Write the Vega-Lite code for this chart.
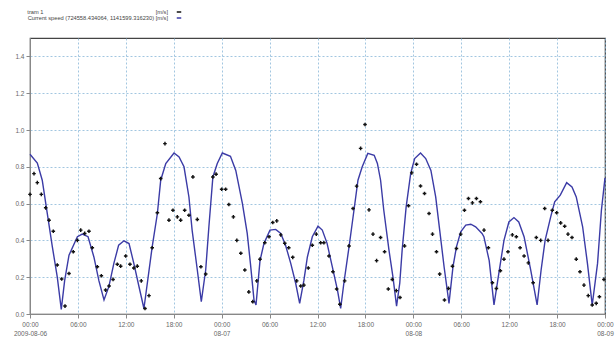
{
  "$schema": "https://vega.github.io/schema/vega-lite/v6.json",
  "width": 575,
  "height": 276,
  "autosize": {"type": "none"},
  "padding": {"left": 30, "top": 38, "right": 11, "bottom": 26},
  "background": "white",
  "config": {
    "font": "Liberation Sans",
    "view": {"stroke": "#444", "strokeWidth": 1.2},
    "axis": {"labelFont": "Liberation Sans", "labelFontSize": 6.5, "labelColor": "#666", "domainColor": "#888", "tickColor": "#888", "gridColor": "#8ab8d8", "gridDash": [2, 2], "gridWidth": 0.8}
  },
  "datasets": {
    "speed": [
      {"t": "2009-08-06T00:00", "v": 0.868}, {"t": "2009-08-06T00:55", "v": 0.82}, {"t": "2009-08-06T01:32", "v": 0.727},
      {"t": "2009-08-06T02:10", "v": 0.546}, {"t": "2009-08-06T02:48", "v": 0.365}, {"t": "2009-08-06T03:25", "v": 0.2},
      {"t": "2009-08-06T03:55", "v": 0.025}, {"t": "2009-08-06T04:20", "v": 0.18}, {"t": "2009-08-06T04:53", "v": 0.32},
      {"t": "2009-08-06T05:56", "v": 0.42}, {"t": "2009-08-06T06:33", "v": 0.434}, {"t": "2009-08-06T07:16", "v": 0.42},
      {"t": "2009-08-06T08:00", "v": 0.31}, {"t": "2009-08-06T08:38", "v": 0.18}, {"t": "2009-08-06T09:16", "v": 0.076},
      {"t": "2009-08-06T09:53", "v": 0.15}, {"t": "2009-08-06T10:30", "v": 0.275}, {"t": "2009-08-06T11:06", "v": 0.374},
      {"t": "2009-08-06T11:46", "v": 0.398}, {"t": "2009-08-06T12:24", "v": 0.383}, {"t": "2009-08-06T13:00", "v": 0.275},
      {"t": "2009-08-06T13:39", "v": 0.148}, {"t": "2009-08-06T14:16", "v": 0.03}, {"t": "2009-08-06T15:18", "v": 0.365},
      {"t": "2009-08-06T15:57", "v": 0.546}, {"t": "2009-08-06T16:22", "v": 0.727}, {"t": "2009-08-06T17:00", "v": 0.818},
      {"t": "2009-08-06T18:02", "v": 0.875}, {"t": "2009-08-06T18:40", "v": 0.854}, {"t": "2009-08-06T19:17", "v": 0.8},
      {"t": "2009-08-06T19:54", "v": 0.636}, {"t": "2009-08-06T20:18", "v": 0.456}, {"t": "2009-08-06T20:57", "v": 0.239},
      {"t": "2009-08-06T21:27", "v": 0.067}, {"t": "2009-08-06T22:00", "v": 0.239}, {"t": "2009-08-06T22:24", "v": 0.474},
      {"t": "2009-08-06T22:54", "v": 0.745}, {"t": "2009-08-06T23:27", "v": 0.818}, {"t": "2009-08-07T00:05", "v": 0.875},
      {"t": "2009-08-07T01:06", "v": 0.857}, {"t": "2009-08-07T01:46", "v": 0.78}, {"t": "2009-08-07T02:36", "v": 0.6},
      {"t": "2009-08-07T03:12", "v": 0.438}, {"t": "2009-08-07T03:36", "v": 0.275}, {"t": "2009-08-07T04:03", "v": 0.076},
      {"t": "2009-08-07T04:18", "v": 0.049}, {"t": "2009-08-07T04:48", "v": 0.29}, {"t": "2009-08-07T05:18", "v": 0.384},
      {"t": "2009-08-07T06:03", "v": 0.456}, {"t": "2009-08-07T06:46", "v": 0.46}, {"t": "2009-08-07T07:24", "v": 0.438},
      {"t": "2009-08-07T08:00", "v": 0.374}, {"t": "2009-08-07T08:39", "v": 0.275}, {"t": "2009-08-07T09:16", "v": 0.167},
      {"t": "2009-08-07T09:46", "v": 0.058}, {"t": "2009-08-07T10:18", "v": 0.184}, {"t": "2009-08-07T10:44", "v": 0.31},
      {"t": "2009-08-07T11:21", "v": 0.42}, {"t": "2009-08-07T12:04", "v": 0.477}, {"t": "2009-08-07T12:36", "v": 0.456},
      {"t": "2009-08-07T13:12", "v": 0.384}, {"t": "2009-08-07T13:51", "v": 0.257}, {"t": "2009-08-07T14:30", "v": 0.13},
      {"t": "2009-08-07T14:54", "v": 0.03}, {"t": "2009-08-07T15:18", "v": 0.167}, {"t": "2009-08-07T15:57", "v": 0.365},
      {"t": "2009-08-07T16:34", "v": 0.564}, {"t": "2009-08-07T17:04", "v": 0.727}, {"t": "2009-08-07T17:36", "v": 0.8},
      {"t": "2009-08-07T18:18", "v": 0.873}, {"t": "2009-08-07T19:06", "v": 0.863}, {"t": "2009-08-07T19:30", "v": 0.818},
      {"t": "2009-08-07T19:54", "v": 0.727}, {"t": "2009-08-07T20:18", "v": 0.564}, {"t": "2009-08-07T20:57", "v": 0.347},
      {"t": "2009-08-07T21:27", "v": 0.2}, {"t": "2009-08-07T21:54", "v": 0.043}, {"t": "2009-08-07T22:18", "v": 0.167},
      {"t": "2009-08-07T22:36", "v": 0.347}, {"t": "2009-08-07T23:06", "v": 0.582}, {"t": "2009-08-07T23:40", "v": 0.763},
      {"t": "2009-08-08T00:10", "v": 0.845}, {"t": "2009-08-08T00:54", "v": 0.875}, {"t": "2009-08-08T01:33", "v": 0.845},
      {"t": "2009-08-08T02:12", "v": 0.78}, {"t": "2009-08-08T02:48", "v": 0.636}, {"t": "2009-08-08T03:18", "v": 0.456},
      {"t": "2009-08-08T03:51", "v": 0.257}, {"t": "2009-08-08T04:28", "v": 0.058}, {"t": "2009-08-08T04:58", "v": 0.257},
      {"t": "2009-08-08T05:24", "v": 0.365}, {"t": "2009-08-08T05:56", "v": 0.447}, {"t": "2009-08-08T06:34", "v": 0.483},
      {"t": "2009-08-08T07:12", "v": 0.488}, {"t": "2009-08-08T07:48", "v": 0.474}, {"t": "2009-08-08T08:36", "v": 0.438},
      {"t": "2009-08-08T08:50", "v": 0.42}, {"t": "2009-08-08T09:30", "v": 0.29}, {"t": "2009-08-08T10:06", "v": 0.05},
      {"t": "2009-08-08T10:42", "v": 0.22}, {"t": "2009-08-08T11:21", "v": 0.4}, {"t": "2009-08-08T11:58", "v": 0.5},
      {"t": "2009-08-08T12:36", "v": 0.524}, {"t": "2009-08-08T13:12", "v": 0.5}, {"t": "2009-08-08T13:52", "v": 0.42},
      {"t": "2009-08-08T14:42", "v": 0.239}, {"t": "2009-08-08T15:30", "v": 0.049}, {"t": "2009-08-08T16:00", "v": 0.239},
      {"t": "2009-08-08T16:30", "v": 0.4}, {"t": "2009-08-08T17:12", "v": 0.528}, {"t": "2009-08-08T17:42", "v": 0.61},
      {"t": "2009-08-08T18:24", "v": 0.646}, {"t": "2009-08-08T19:12", "v": 0.714}, {"t": "2009-08-08T19:52", "v": 0.69},
      {"t": "2009-08-08T20:24", "v": 0.636}, {"t": "2009-08-08T21:12", "v": 0.474}, {"t": "2009-08-08T21:48", "v": 0.275},
      {"t": "2009-08-08T22:24", "v": 0.049}, {"t": "2009-08-08T23:04", "v": 0.275}, {"t": "2009-08-08T23:33", "v": 0.564},
      {"t": "2009-08-09T00:00", "v": 0.74}
    ],
    "obs": [
      {"t": "2009-08-06T00:00", "v": 0.65}, {"t": "2009-08-06T00:30", "v": 0.763}, {"t": "2009-08-06T00:55", "v": 0.714},
      {"t": "2009-08-06T01:25", "v": 0.65}, {"t": "2009-08-06T01:58", "v": 0.577}, {"t": "2009-08-06T02:23", "v": 0.51},
      {"t": "2009-08-06T02:55", "v": 0.45}, {"t": "2009-08-06T03:25", "v": 0.266}, {"t": "2009-08-06T03:58", "v": 0.19},
      {"t": "2009-08-06T04:23", "v": 0.043}, {"t": "2009-08-06T04:53", "v": 0.22}, {"t": "2009-08-06T05:25", "v": 0.338},
      {"t": "2009-08-06T05:56", "v": 0.4}, {"t": "2009-08-06T06:21", "v": 0.456}, {"t": "2009-08-06T06:51", "v": 0.438},
      {"t": "2009-08-06T07:23", "v": 0.45}, {"t": "2009-08-06T07:48", "v": 0.36}, {"t": "2009-08-06T08:26", "v": 0.257},
      {"t": "2009-08-06T08:56", "v": 0.208}, {"t": "2009-08-06T09:28", "v": 0.13}, {"t": "2009-08-06T09:54", "v": 0.152},
      {"t": "2009-08-06T10:24", "v": 0.188}, {"t": "2009-08-06T10:56", "v": 0.27}, {"t": "2009-08-06T11:21", "v": 0.26},
      {"t": "2009-08-06T11:59", "v": 0.315}, {"t": "2009-08-06T12:31", "v": 0.27}, {"t": "2009-08-06T13:00", "v": 0.25},
      {"t": "2009-08-06T13:26", "v": 0.26}, {"t": "2009-08-06T13:56", "v": 0.18}, {"t": "2009-08-06T14:24", "v": 0.03},
      {"t": "2009-08-06T14:54", "v": 0.1}, {"t": "2009-08-06T15:18", "v": 0.36}, {"t": "2009-08-06T15:57", "v": 0.55},
      {"t": "2009-08-06T16:22", "v": 0.736}, {"t": "2009-08-06T16:54", "v": 0.926}, {"t": "2009-08-06T17:24", "v": 0.51},
      {"t": "2009-08-06T17:54", "v": 0.564}, {"t": "2009-08-06T18:27", "v": 0.528}, {"t": "2009-08-06T18:52", "v": 0.51},
      {"t": "2009-08-06T19:22", "v": 0.564}, {"t": "2009-08-06T19:54", "v": 0.537}, {"t": "2009-08-06T20:24", "v": 0.745},
      {"t": "2009-08-06T20:57", "v": 0.514}, {"t": "2009-08-06T21:24", "v": 0.257}, {"t": "2009-08-06T22:00", "v": 0.217},
      {"t": "2009-08-06T22:54", "v": 0.745}, {"t": "2009-08-06T23:18", "v": 0.76}, {"t": "2009-08-07T00:00", "v": 0.678},
      {"t": "2009-08-07T00:30", "v": 0.678}, {"t": "2009-08-07T00:54", "v": 0.595}, {"t": "2009-08-07T01:28", "v": 0.528},
      {"t": "2009-08-07T01:54", "v": 0.4}, {"t": "2009-08-07T02:24", "v": 0.33}, {"t": "2009-08-07T02:54", "v": 0.239},
      {"t": "2009-08-07T03:24", "v": 0.12}, {"t": "2009-08-07T03:54", "v": 0.067}, {"t": "2009-08-07T04:24", "v": 0.18},
      {"t": "2009-08-07T04:48", "v": 0.298}, {"t": "2009-08-07T05:24", "v": 0.387}, {"t": "2009-08-07T05:56", "v": 0.42},
      {"t": "2009-08-07T06:24", "v": 0.497}, {"t": "2009-08-07T06:54", "v": 0.506}, {"t": "2009-08-07T07:24", "v": 0.43},
      {"t": "2009-08-07T07:54", "v": 0.384}, {"t": "2009-08-07T08:24", "v": 0.36}, {"t": "2009-08-07T08:54", "v": 0.308},
      {"t": "2009-08-07T09:24", "v": 0.18}, {"t": "2009-08-07T09:54", "v": 0.152}, {"t": "2009-08-07T10:18", "v": 0.157},
      {"t": "2009-08-07T10:51", "v": 0.25}, {"t": "2009-08-07T11:21", "v": 0.374}, {"t": "2009-08-07T11:51", "v": 0.434},
      {"t": "2009-08-07T12:24", "v": 0.387}, {"t": "2009-08-07T12:48", "v": 0.387}, {"t": "2009-08-07T13:26", "v": 0.315},
      {"t": "2009-08-07T13:56", "v": 0.23}, {"t": "2009-08-07T14:24", "v": 0.136}, {"t": "2009-08-07T14:48", "v": 0.053},
      {"t": "2009-08-07T15:24", "v": 0.18}, {"t": "2009-08-07T15:57", "v": 0.37}, {"t": "2009-08-07T16:27", "v": 0.573},
      {"t": "2009-08-07T16:54", "v": 0.695}, {"t": "2009-08-07T17:24", "v": 0.9}, {"t": "2009-08-07T17:57", "v": 1.03},
      {"t": "2009-08-07T18:27", "v": 0.566}, {"t": "2009-08-07T18:57", "v": 0.434}, {"t": "2009-08-07T19:24", "v": 0.29},
      {"t": "2009-08-07T19:54", "v": 0.416}, {"t": "2009-08-07T20:24", "v": 0.338}, {"t": "2009-08-07T20:52", "v": 0.136},
      {"t": "2009-08-07T21:22", "v": 0.188}, {"t": "2009-08-07T21:52", "v": 0.127}, {"t": "2009-08-07T22:20", "v": 0.09},
      {"t": "2009-08-07T22:54", "v": 0.37}, {"t": "2009-08-07T23:24", "v": 0.588}, {"t": "2009-08-07T23:48", "v": 0.767},
      {"t": "2009-08-08T00:24", "v": 0.814}, {"t": "2009-08-08T00:54", "v": 0.696}, {"t": "2009-08-08T01:24", "v": 0.655},
      {"t": "2009-08-08T01:58", "v": 0.546}, {"t": "2009-08-08T02:24", "v": 0.434}, {"t": "2009-08-08T02:54", "v": 0.338},
      {"t": "2009-08-08T03:18", "v": 0.217}, {"t": "2009-08-08T03:54", "v": 0.076}, {"t": "2009-08-08T04:24", "v": 0.139},
      {"t": "2009-08-08T04:54", "v": 0.26}, {"t": "2009-08-08T05:24", "v": 0.356}, {"t": "2009-08-08T05:56", "v": 0.434},
      {"t": "2009-08-08T06:24", "v": 0.564}, {"t": "2009-08-08T06:54", "v": 0.628}, {"t": "2009-08-08T07:24", "v": 0.604},
      {"t": "2009-08-08T07:54", "v": 0.628}, {"t": "2009-08-08T08:24", "v": 0.61}, {"t": "2009-08-08T08:51", "v": 0.456},
      {"t": "2009-08-08T09:24", "v": 0.36}, {"t": "2009-08-08T09:54", "v": 0.17}, {"t": "2009-08-08T10:24", "v": 0.139},
      {"t": "2009-08-08T10:54", "v": 0.235}, {"t": "2009-08-08T11:21", "v": 0.298}, {"t": "2009-08-08T11:51", "v": 0.338},
      {"t": "2009-08-08T12:24", "v": 0.43}, {"t": "2009-08-08T12:54", "v": 0.42}, {"t": "2009-08-08T13:22", "v": 0.36},
      {"t": "2009-08-08T13:52", "v": 0.315}, {"t": "2009-08-08T14:24", "v": 0.278}, {"t": "2009-08-08T15:00", "v": 0.17},
      {"t": "2009-08-08T15:24", "v": 0.416}, {"t": "2009-08-08T15:57", "v": 0.4}, {"t": "2009-08-08T16:27", "v": 0.573},
      {"t": "2009-08-08T16:52", "v": 0.4}, {"t": "2009-08-08T17:24", "v": 0.564}, {"t": "2009-08-08T17:57", "v": 0.55},
      {"t": "2009-08-08T18:27", "v": 0.495}, {"t": "2009-08-08T18:57", "v": 0.477}, {"t": "2009-08-08T19:22", "v": 0.434},
      {"t": "2009-08-08T19:52", "v": 0.416}, {"t": "2009-08-08T20:24", "v": 0.298}, {"t": "2009-08-08T20:52", "v": 0.23},
      {"t": "2009-08-08T21:22", "v": 0.157}, {"t": "2009-08-08T21:54", "v": 0.1}, {"t": "2009-08-08T22:24", "v": 0.049},
      {"t": "2009-08-08T22:54", "v": 0.058}, {"t": "2009-08-08T23:18", "v": 0.094}, {"t": "2009-08-08T23:52", "v": 0.188}
    ]
  },
  "layer": [
    {
      "data": {"name": "speed"},
      "mark": {"type": "line", "strokeWidth": 1.4},
      "encoding": {
        "x": {"field": "t", "type": "temporal",
          "axis": {"title": null, "grid": true, "tickSize": 4, "labelPadding": 3, "labelFlush": false, "labelOverlap": false, "labelLineHeight": 9,
            "labelExpr": "hours(datum.value) == 0 ? [timeFormat(datum.value, '%H:%M'), date(datum.value) == 6 ? '2009-08-06' : timeFormat(datum.value, '%m-%d')] : timeFormat(datum.value, '%H:%M')"}},
        "y": {"field": "v", "type": "quantitative",
          "scale": {"domain": [0, 1.5], "nice": false},
          "axis": {"title": null, "values": [0, 0.2, 0.4, 0.6, 0.8, 1.0, 1.2, 1.4], "tickCount": 8, "format": ".1f", "grid": true, "tickSize": 4, "labelPadding": 2, "labelOverlap": false}},
        "color": {"datum": "Current speed (724558.434064, 1141599.316230)", "type": "nominal",
          "scale": {"domain": ["tram 1", "Current speed (724558.434064, 1141599.316230)"], "range": ["#111111", "#3b3ba6"]},
          "legend": {"orient": "none", "legendX": 146, "legendY": -29, "title": null, "labelFontSize": 5.7, "labelColor": "#444", "labelLimit": 400, "symbolSize": 20, "rowPadding": 0,
            "labelAlign": "right", "labelOffset": -14,
            "labelExpr": "datum.label == 'tram 1' ? pad('tram 1', 77, '\u00a0') + '[m/s]' : datum.label + ' [m/s]'"}}
      }
    },
    {
      "data": {"name": "obs"},
      "mark": {"type": "point", "filled": true, "shape": "cross", "size": 13, "opacity": 1},
      "encoding": {
        "x": {"field": "t", "type": "temporal"},
        "y": {"field": "v", "type": "quantitative"},
        "color": {"datum": "tram 1", "type": "nominal"}
      }
    }
  ]
}
